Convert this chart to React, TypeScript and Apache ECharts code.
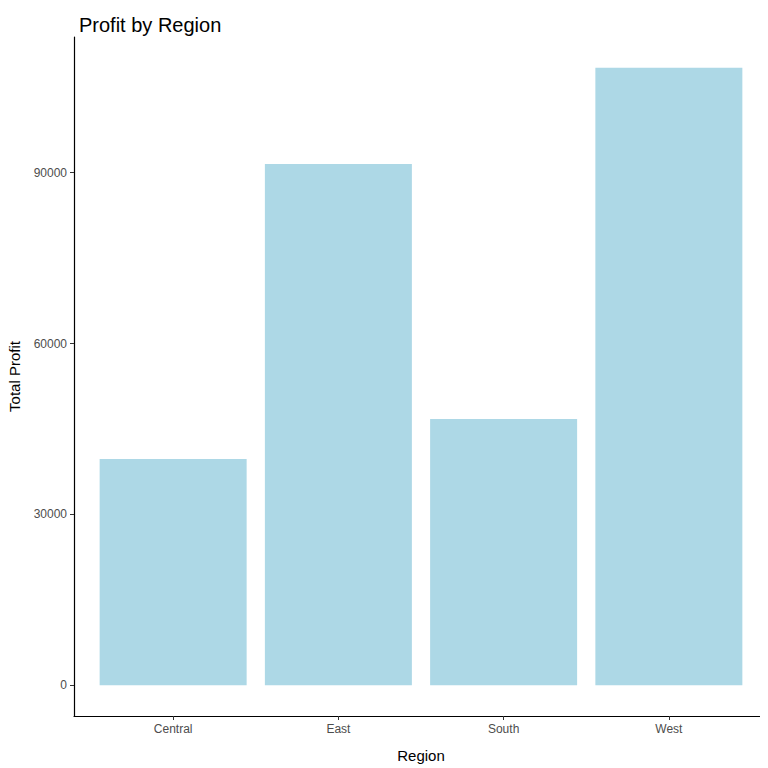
import React, { useEffect, useRef } from "react";
import * as echarts from "echarts";

const categories = ["Central", "East", "South", "West"];
const profits = [39706, 91523, 46749, 108418];
const yTicks = [0, 30000, 60000, 90000];

export default function App() {
  const ref = useRef<HTMLDivElement>(null);
  useEffect(() => {
    const chart = echarts.init(ref.current!, null, { renderer: "svg" });
    const maxV = Math.max(...profits);
    const pad = maxV * 0.05;
    chart.setOption({
      animation: false,
      title: {
        text: "Profit by Region",
        left: 66,
        top: 2,
        textStyle: { fontFamily: "Liberation Sans", fontSize: 20, fontWeight: "normal", color: "#000" },
      },
      grid: { left: 66, right: 0, top: 29, bottom: 52, containLabel: false, outerBoundsMode: "none" },
      xAxis: {
        type: "value",
        min: 0.4,
        max: 4.6,
        name: "Region",
        nameLocation: "middle",
        nameGap: 32,
        nameTextStyle: { fontFamily: "Liberation Sans", fontSize: 15, color: "#000" },
        axisLine: { show: true, onZero: false, lineStyle: { color: "#000", width: 1.2 } },
        axisTick: { show: true, customValues: [1, 2, 3, 4], length: 4, lineStyle: { color: "#333" } },
        axisLabel: {
          customValues: [1, 2, 3, 4],
          formatter: (v: number) => categories[Math.round(v) - 1] ?? "",
          fontFamily: "Liberation Sans",
          fontSize: 12,
          color: "#4d4d4d",
          margin: 7,
        },
        splitLine: { show: false },
      },
      yAxis: {
        type: "value",
        min: -pad,
        max: maxV + pad,
        name: "Total Profit",
        nameLocation: "middle",
        nameGap: 52,
        nameTextStyle: { fontFamily: "Liberation Sans", fontSize: 15, color: "#000" },
        axisLine: { show: true, onZero: false, lineStyle: { color: "#000", width: 1.2 } },
        axisTick: { show: true, customValues: yTicks, length: 4, lineStyle: { color: "#333" } },
        axisLabel: {
          customValues: yTicks,
          formatter: (v: number) => String(v),
          fontFamily: "Liberation Sans",
          fontSize: 12,
          color: "#4d4d4d",
          margin: 7,
        },
        splitLine: { show: false },
      },
      series: [
        {
          type: "bar",
          data: profits.map((p, i) => [i + 1, p]),
          barWidth: 147,
          itemStyle: { color: "#ADD8E6" },
        },
      ],
    });
    return () => chart.dispose();
  }, []);
  return <div ref={ref} style={{ width: 760, height: 760 }} />;
}
